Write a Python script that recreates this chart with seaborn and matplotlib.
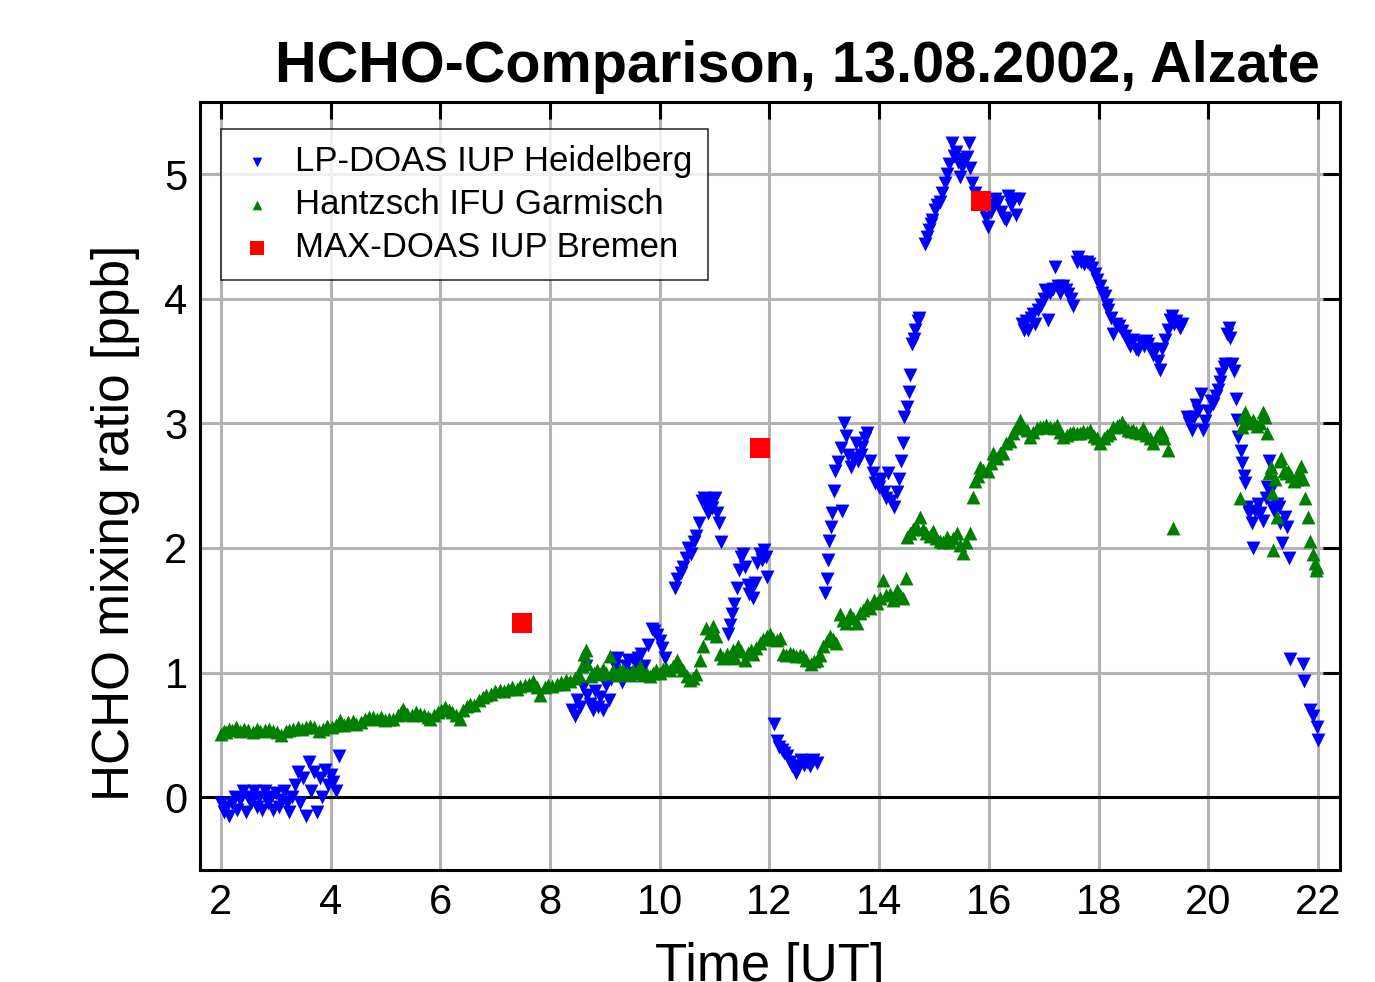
import numpy as np
import pandas as pd
import matplotlib
matplotlib.use("Agg")
import matplotlib.pyplot as plt
import seaborn as sns

# LP-DOAS IUP Heidelberg (blue, downward triangles)
lp_time = [2.00, 2.05, 2.10, 2.15, 2.20, 2.25, 2.30, 2.35, 2.40, 2.45, 2.50, 2.55, 2.60, 2.65,
           2.70, 2.75, 2.80, 2.85, 2.90, 2.95, 3.00, 3.05, 3.10, 3.15, 3.20, 3.25, 3.30, 3.35,
           3.40, 3.45, 3.50, 3.55, 3.60, 3.65, 3.70, 3.75, 3.80, 3.85, 3.90, 3.95, 4.00, 4.05,
           4.10, 4.15,
           8.40, 8.45, 8.50, 8.55, 8.60, 8.65, 8.68, 8.72, 8.78, 8.82, 8.88, 8.92, 8.97, 9.02,
           9.08, 9.12, 9.18, 9.22, 9.28, 9.32, 9.38, 9.42, 9.48, 9.55, 9.60, 9.65, 9.72, 9.78,
           9.85, 9.90, 9.95, 10.00, 10.05, 10.10,
           10.28, 10.32, 10.38, 10.42, 10.48, 10.52, 10.57, 10.62, 10.66, 10.72, 10.77, 10.80,
           10.84, 10.88, 10.92, 10.96, 11.00, 11.04, 11.08, 11.12,
           11.25, 11.28, 11.32, 11.36, 11.40, 11.44, 11.48, 11.52, 11.56, 11.60, 11.63, 11.67,
           11.70, 11.74, 11.78, 11.82, 11.86, 11.90, 11.93, 11.96,
           12.08, 12.13, 12.17, 12.22, 12.27, 12.32, 12.37, 12.42, 12.48, 12.53, 12.58, 12.63,
           12.68, 12.74, 12.80, 12.86,
           13.02, 13.05, 13.06, 13.09, 13.13, 13.14, 13.17, 13.20, 13.25, 13.30, 13.33, 13.36,
           13.39, 13.43, 13.48, 13.53, 13.57, 13.62, 13.66, 13.69, 13.74, 13.78, 13.84, 13.88,
           13.93, 13.99, 14.03, 14.08, 14.13, 14.17, 14.22, 14.27, 14.32, 14.36, 14.39, 14.43,
           14.46, 14.50, 14.54, 14.56, 14.60, 14.63, 14.66, 14.70, 14.73,
           14.83, 14.87, 14.90, 14.94, 14.97, 15.02, 15.06, 15.10, 15.15, 15.20, 15.24, 15.28,
           15.33, 15.36, 15.40, 15.44, 15.48, 15.51, 15.55, 15.60, 15.63, 15.66, 15.70, 15.75,
           15.80, 15.85, 15.90, 15.95, 15.99, 16.03, 16.07, 16.12, 16.17, 16.22, 16.27, 16.31,
           16.35, 16.40, 16.45, 16.50, 16.55,
           16.60, 16.64, 16.68, 16.72, 16.76, 16.80, 16.85, 16.90, 16.95, 17.00, 17.03, 17.07,
           17.12, 17.17, 17.21, 17.26, 17.30, 17.35, 17.40, 17.45, 17.50, 17.54, 17.60, 17.63,
           17.68, 17.73, 17.78, 17.83, 17.88, 17.93, 17.98, 18.03, 18.07, 18.12, 18.15, 18.18,
           18.22, 18.27, 18.32, 18.37, 18.42, 18.48, 18.53, 18.58, 18.63, 18.68, 18.72, 18.77,
           18.82, 18.87, 18.91, 18.96, 19.00, 19.03, 19.08, 19.12, 19.16, 19.21, 19.26, 19.30,
           19.33, 19.37, 19.42, 19.48, 19.52,
           19.61, 19.65, 19.70, 19.74, 19.78, 19.82, 19.86, 19.90, 19.94, 20.00, 20.05, 20.09,
           20.14, 20.18, 20.21, 20.24, 20.28, 20.31, 20.35, 20.37, 20.40, 20.44, 20.47, 20.51,
           20.53, 20.55, 20.59, 20.61, 20.65, 20.67, 20.70, 20.75, 20.80, 20.82, 20.85, 20.90,
           20.95, 21.00, 21.05, 21.07, 21.10, 21.13, 21.16, 21.20, 21.25, 21.28, 21.31, 21.34,
           21.39, 21.43, 21.47, 21.49, 21.73, 21.74, 21.86, 21.90, 21.99, 22.00]
lp_hcho = [-0.05, -0.12, -0.08, -0.15, -0.05, 0.00, -0.10, -0.02, 0.05, -0.12, 0.00, -0.05,
           0.05, -0.08, 0.00, -0.10, 0.05, -0.05, 0.00, -0.10, 0.03, -0.08, -0.02, 0.05, -0.05,
           -0.12, 0.00, 0.10, 0.20, -0.05, 0.15, -0.15, 0.28, 0.05, 0.20, -0.12, 0.15, 0.00,
           0.22, 0.10, 0.18, 0.12, 0.05, 0.33,
           0.70, 0.65, 0.78, 0.72, 0.88, 1.05, 0.82, 0.75, 0.70, 0.85, 0.72, 0.80, 0.70, 0.90,
           0.78, 0.95, 1.05, 1.12, 1.00, 0.92, 1.05, 1.10, 1.00, 1.08, 1.12, 1.15, 1.05, 1.22,
           1.35, 1.33, 1.30, 1.25, 1.20, 1.12,
           1.68, 1.75, 1.80, 1.85, 1.92, 2.00, 1.95, 2.05, 2.10, 2.20, 2.38, 2.40, 2.35, 2.28,
           2.38, 2.32, 2.40, 2.28, 2.20, 2.05,
           1.31, 1.38, 1.47, 1.55, 1.68, 1.82, 1.93, 1.95, 1.85, 1.70, 1.63, 1.68, 1.60, 1.72,
           1.88, 1.95, 1.90, 1.98, 1.93, 1.77,
           0.59, 0.45, 0.40, 0.38, 0.35, 0.33, 0.28, 0.25, 0.19, 0.25, 0.30, 0.26, 0.28, 0.25,
           0.30, 0.27,
           1.64, 1.75, 1.90, 2.06, 2.17, 2.28, 2.46, 2.62, 2.69, 2.80, 2.30, 3.00, 2.90, 2.75,
           2.65, 2.72, 2.84, 2.70, 2.75, 2.81, 2.88, 2.92, 2.70, 2.60, 2.52, 2.49, 2.55, 2.45,
           2.40, 2.60, 2.38, 2.33, 2.45, 2.55, 2.70, 2.84,
           3.05, 3.13, 3.25, 3.39, 3.64, 3.68, 3.75, 3.82, 3.85,
           4.44, 4.50, 4.55, 4.60, 4.63, 4.71, 4.75, 4.78, 4.85, 4.93, 5.00, 5.08, 5.25, 5.15,
           5.18, 5.10, 4.98, 5.06, 5.12, 5.14, 5.25, 5.05, 4.93, 4.85, 4.80, 4.76, 4.72, 4.65,
           4.58, 4.70, 4.75, 4.80, 4.78, 4.70, 4.65, 4.63, 4.83, 4.75, 4.80, 4.67, 4.80,
           3.80, 3.75, 3.82, 3.75, 3.85, 3.88, 3.80, 3.91, 3.95, 4.00, 4.07, 3.83, 4.05, 4.08,
           4.26, 4.10, 4.05, 4.10, 4.07, 4.04, 4.00, 3.94, 4.30, 4.34, 4.30, 4.28, 4.30, 4.28,
           4.25, 4.20, 4.15, 4.10, 4.05, 4.02, 3.95, 3.91, 3.85, 3.72, 3.80, 3.78, 3.74, 3.70,
           3.65, 3.62, 3.67, 3.60, 3.59, 3.65, 3.62, 3.66, 3.64, 3.60, 3.55, 3.59, 3.50, 3.43,
           3.60, 3.67, 3.75, 3.83, 3.86, 3.80, 3.82, 3.77, 3.80,
           3.05, 3.00, 2.95, 3.05, 3.15, 3.10, 3.24, 2.95, 3.02, 3.10, 3.18, 3.16, 3.22, 3.27,
           3.33, 3.40, 3.45, 3.48, 3.72, 3.77, 3.69, 3.48, 3.42, 3.20, 3.03, 2.89, 2.78, 2.68,
           2.58, 2.52, 2.33, 2.28, 2.20, 2.00, 2.30, 2.35, 2.28, 2.22, 2.40, 2.49, 2.70, 2.45,
           2.33, 2.30, 2.35, 2.33, 2.20, 2.04, 2.25, 2.17, 1.92, 1.11, 1.07, 0.93, 0.70, 0.65,
           0.56, 0.46]

# Hantzsch IFU Garmisch (green, upward triangles)
hz_time = [2.00, 2.05, 2.10, 2.15, 2.20, 2.28, 2.35, 2.42, 2.50, 2.58, 2.65, 2.72, 2.80, 2.88,
           2.95, 3.02, 3.10, 3.18, 3.25, 3.32, 3.40, 3.48, 3.55, 3.62, 3.70, 3.78, 3.86, 3.94,
           4.02, 4.10, 4.17, 4.25, 4.32, 4.40, 4.47, 4.55, 4.62, 4.70, 4.77, 4.85, 4.92, 5.00,
           5.07, 5.14, 5.22, 5.28, 5.32, 5.40, 5.48, 5.56, 5.63, 5.70, 5.77, 5.81, 5.88, 5.95,
           6.02, 6.08, 6.15, 6.22, 6.28, 6.36, 6.42, 6.48, 6.54, 6.62, 6.70, 6.78, 6.84, 6.92,
           7.00, 7.09, 7.16, 7.24, 7.31, 7.39, 7.46, 7.54, 7.62, 7.69, 7.76, 7.82, 7.90, 7.96,
           8.04, 8.12, 8.20, 8.26, 8.30, 8.37, 8.45, 8.52, 8.58, 8.62, 8.65, 8.68, 8.74, 8.80,
           8.86, 8.91, 8.96, 9.02, 9.10, 9.15, 9.22, 9.28, 9.33, 9.40, 9.46, 9.52, 9.58, 9.64,
           9.70, 9.76, 9.82, 9.88, 9.94, 10.00, 10.06, 10.12, 10.19, 10.25, 10.31, 10.37, 10.43,
           10.49, 10.55, 10.61, 10.67, 10.73, 10.79, 10.85, 10.91, 10.97, 11.03, 11.10, 11.16,
           11.22, 11.28, 11.34, 11.38, 11.43, 11.49, 11.55, 11.61, 11.67, 11.70, 11.76, 11.83,
           11.89, 11.95, 12.01, 12.07, 12.13, 12.20, 12.25, 12.31, 12.37, 12.43, 12.49, 12.55,
           12.61, 12.67, 12.75, 12.81, 12.86, 12.92, 12.98, 13.04, 13.10, 13.16, 13.22, 13.28,
           13.34, 13.40, 13.47, 13.53, 13.59, 13.65, 13.71, 13.77, 13.83, 13.90, 13.96, 14.02,
           14.07, 14.13, 14.20, 14.26, 14.32, 14.38, 14.44, 14.49,
           14.50, 14.56, 14.62, 14.68, 14.74, 14.80, 14.86, 14.92, 14.98, 15.04, 15.11, 15.17,
           15.23, 15.29, 15.35, 15.41, 15.47, 15.53, 15.59, 15.65, 15.71, 15.75, 15.80, 15.84,
           15.90, 15.98, 16.04, 16.08, 16.14, 16.20, 16.26, 16.32, 16.38, 16.44, 16.50, 16.57,
           16.63, 16.69, 16.75, 16.81, 16.87, 16.93, 16.99, 17.05, 17.12, 17.18, 17.24, 17.30,
           17.35, 17.42, 17.48, 17.54, 17.60, 17.66, 17.72, 17.78, 17.85, 17.91, 17.97, 18.03,
           18.09, 18.15, 18.21, 18.27, 18.33, 18.38, 18.42, 18.48, 18.54, 18.60, 18.63, 18.69,
           18.75, 18.81, 18.87, 18.94, 19.00, 19.06, 19.12, 19.15, 19.20, 19.26, 19.35,
           20.58, 20.61, 20.64, 20.67, 20.72, 20.77, 20.82, 20.88, 20.94, 21.00, 21.04, 21.07,
           21.10, 21.14, 21.17, 21.18, 21.22, 21.25, 21.30, 21.33, 21.38, 21.42, 21.45, 21.50,
           21.56, 21.62, 21.66, 21.69, 21.72, 21.76, 21.81, 21.85, 21.90, 21.94, 21.97, 21.99]
hz_hcho = [0.51, 0.53, 0.52, 0.55, 0.54, 0.56, 0.53, 0.55, 0.54, 0.52, 0.55, 0.53, 0.54, 0.55,
           0.53, 0.52, 0.50, 0.53, 0.54, 0.55, 0.56, 0.55, 0.56, 0.57, 0.56, 0.53, 0.55, 0.57,
           0.56, 0.58, 0.62, 0.58, 0.60, 0.61, 0.59, 0.60, 0.63, 0.64, 0.64, 0.63, 0.64, 0.62,
           0.63, 0.63, 0.66, 0.68, 0.71, 0.67, 0.66, 0.68, 0.67, 0.66, 0.64, 0.63, 0.66, 0.68,
           0.70, 0.72, 0.70, 0.68, 0.66, 0.63, 0.70, 0.73, 0.75, 0.74, 0.78, 0.80, 0.82, 0.83,
           0.85, 0.86, 0.85, 0.87, 0.88, 0.87, 0.89, 0.90, 0.91, 0.93, 0.88, 0.82, 0.88, 0.90,
           0.89, 0.91, 0.92, 0.91, 0.94, 0.93, 0.96, 0.98, 1.05, 1.15, 1.18, 1.07, 0.97, 1.00,
           1.02, 0.99, 1.03, 1.00, 1.13, 1.02, 0.98, 1.02, 1.02, 1.00, 0.98, 1.02, 1.00, 1.05,
           0.98, 0.99, 0.97, 1.00, 1.02, 1.00, 1.03, 1.04, 1.02, 1.05, 1.10, 1.05, 1.02,
           0.97, 0.94, 0.96, 0.99, 1.10, 1.21, 1.36, 1.32, 1.37, 1.29, 1.15, 1.12,
           1.15, 1.13, 1.18, 1.12, 1.21, 1.17, 1.10, 1.16, 1.18, 1.15, 1.20, 1.24,
           1.27, 1.29, 1.31, 1.27, 1.26, 1.28, 1.15, 1.14, 1.16, 1.15, 1.13, 1.14,
           1.13, 1.10, 1.07, 1.09, 1.10, 1.14, 1.21, 1.25, 1.29, 1.27, 1.24, 1.47,
           1.42, 1.40, 1.47, 1.44, 1.40, 1.48, 1.50, 1.55, 1.52, 1.58, 1.56, 1.60,
           1.74, 1.62, 1.63, 1.58, 1.66, 1.62, 1.60, 1.76,
           2.09, 2.12, 2.15, 2.18, 2.25, 2.15, 2.12, 2.10, 2.14, 2.08, 2.06, 2.05,
           2.09, 2.05, 2.08, 2.12, 2.02, 1.96, 2.05, 2.12, 2.41, 2.54, 2.58, 2.65,
           2.63, 2.62, 2.68, 2.76, 2.72, 2.76, 2.76, 2.84, 2.86, 2.92, 2.96, 3.03,
           2.98, 2.95, 2.89, 2.93, 2.96, 2.97, 2.97, 2.99, 2.97, 2.96, 2.99, 2.93,
           2.89, 2.91, 2.92, 2.93, 2.92, 2.92, 2.94, 2.93, 2.95, 2.90, 2.88, 2.84,
           2.88, 2.91, 2.92, 2.97, 2.98, 2.99, 3.01, 2.97, 2.95, 2.94, 2.95, 2.93,
           2.92, 2.96, 2.91, 2.88, 2.84, 2.90, 2.93, 2.93, 2.88, 2.79, 2.16,
           2.40, 2.97, 3.05, 3.09, 3.02, 3.00, 3.03, 2.98, 3.00, 3.09, 3.05, 2.92,
           2.60, 2.65, 2.44, 1.98, 2.55, 2.25, 2.70, 2.72, 2.62, 2.60, 2.62, 2.58,
           2.54, 2.55, 2.62, 2.66, 2.55, 2.40, 2.25, 2.06, 1.95, 1.88, 1.82, 1.85]

# MAX-DOAS IUP Bremen (red squares)
max_time = [7.48, 11.83, 15.86]
max_hcho = [1.40, 2.80, 4.79]

lp = pd.DataFrame({"time": lp_time, "hcho": lp_hcho})
hz = pd.DataFrame({"time": hz_time, "hcho": hz_hcho})
mx = pd.DataFrame({"time": max_time, "hcho": max_hcho})

sns.set_style("white")
plt.rcParams["font.family"] = ["Liberation Sans", "DejaVu Sans"]
plt.rcParams["text.color"] = "black"
plt.rcParams["axes.labelcolor"] = "black"

fig = plt.figure(figsize=(13.75, 9.82), dpi=100)
ax = fig.add_axes([0.1455, 0.114, 0.829, 0.782])

ax.axhline(0, color="black", lw=2.2, zorder=1)

sns.scatterplot(data=lp, x="time", y="hcho", marker="v", color="#0000ff", s=100,
                linewidth=0, ax=ax, label="LP-DOAS IUP Heidelberg", zorder=3)
sns.scatterplot(data=hz, x="time", y="hcho", marker="^", color="#007f00", s=100,
                linewidth=0, ax=ax, label="Hantzsch IFU Garmisch", zorder=3)
sns.scatterplot(data=mx, x="time", y="hcho", marker="s", color="#ff0000", s=210,
                linewidth=0, ax=ax, label="MAX-DOAS IUP Bremen", zorder=4)

ax.set_xlim(1.62, 22.4)
ax.set_ylim(-0.586, 5.58)
ax.set_xticks(np.arange(2, 23, 2))
ax.set_yticks(np.arange(0, 6, 1))
ax.grid(True, color="#b3b3b3", lw=2.2, zorder=0)
ax.set_axisbelow(True)
ax.tick_params(direction="in", length=12, width=2.2, labelsize=30, top=True, right=True,
               pad=9, colors="black")
for sp in ax.spines.values():
    sp.set_linewidth(2.2)
    sp.set_color("black")

ax.set_xlabel("Time [UT]", fontsize=38)
ax.xaxis.set_label_coords(0.5, -0.094)
ax.set_ylabel("HCHO mixing ratio [ppb]", fontsize=37)
ax.yaxis.set_label_coords(-0.053, 0.452)

leg = ax.legend(loc="upper left", bbox_to_anchor=(0.018, 0.965), fontsize=25,
                markerscale=0.7, frameon=True, fancybox=False, edgecolor="black",
                borderpad=0.45, handlelength=1.2, handletextpad=0.5, labelspacing=0.3,
                borderaxespad=0)
leg.get_frame().set_linewidth(1.2)
for t in leg.get_texts():
    t.set_color("black")

fig.text(1320 / 1375, 1 - 82 / 982, "HCHO-Comparison, 13.08.2002, Alzate", ha="right",
         va="baseline", fontsize=41.5, fontweight="bold")

fig.savefig("out.png", dpi=100)
